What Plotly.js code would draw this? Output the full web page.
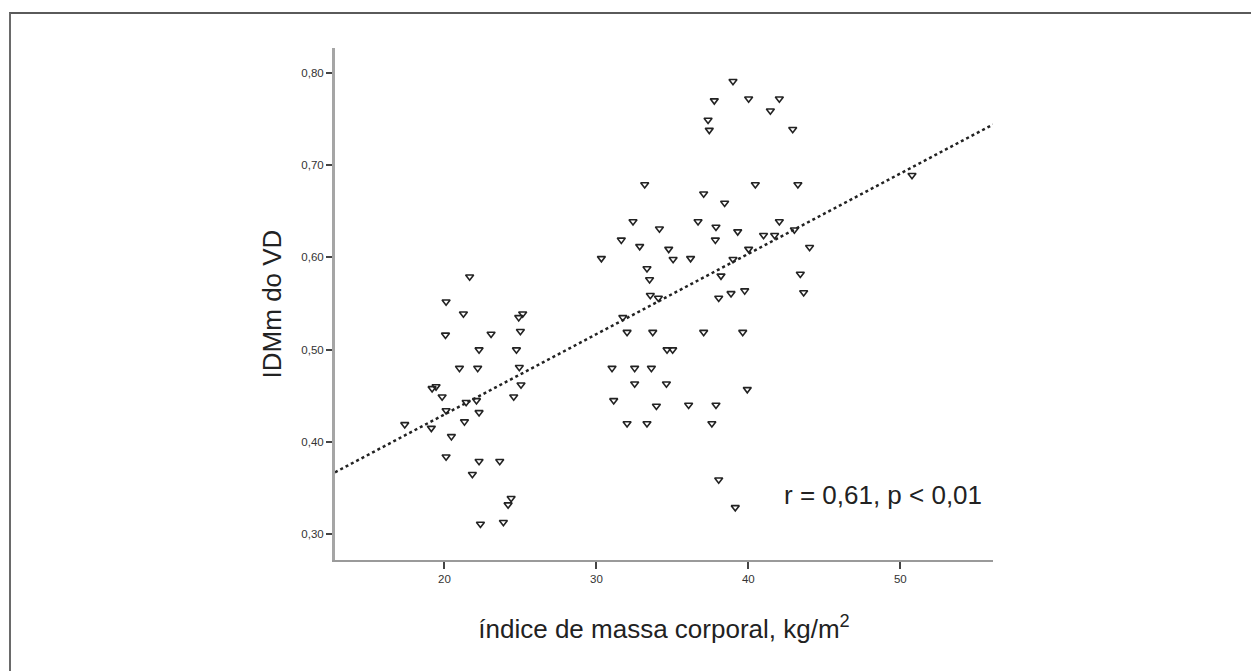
<!DOCTYPE html>
<html>
<head>
<meta charset="utf-8">
<script src="https://cdn.plot.ly/plotly-3.0.1.min.js"></script>
<style>
  html, body { margin: 0; padding: 0; background: #ffffff; }
  #frame { position: absolute; left: 9px; top: 12px; width: 1242px; height: 659px;
           border-top: 2px solid #5a5a5a; border-left: 2px solid #6a6a6a; box-sizing: border-box; }
  #chart { position: absolute; left: 0; top: 0; width: 1251px; height: 671px; }
</style>
</head>
<body>
<div id="frame"></div>
<div id="chart"></div>
<script>
// IMC (kg/m2) and IDMm do VD readings
const bmi = [
  21.66, 20.11, 21.25, 20.07, 23.07, 25.15, 24.89, 25.00, 22.28, 24.74,
  20.99, 22.19, 24.93, 19.19, 19.45, 19.85, 25.04, 24.56, 21.43, 22.11,
  20.11, 22.28, 21.32, 17.39, 19.14, 20.46, 20.11, 22.28, 23.64, 21.84,
  24.39, 24.19, 22.37, 23.88,
  30.33, 33.33, 33.50, 33.55, 34.08, 31.74, 32.02, 33.71, 31.03, 32.52,
  33.62, 32.52, 31.14, 33.95, 32.02, 33.33, 33.18, 32.41, 31.64, 32.85,
  34.15, 38.99, 37.76, 40.02, 42.04, 41.45, 37.35, 37.43, 42.92, 50.77,
  40.46, 43.26, 37.06, 38.44, 36.69, 37.87, 37.83, 39.30, 42.04, 41.00,
  41.73, 43.03, 44.03, 34.76, 35.05, 36.20, 38.99, 40.02, 38.20, 43.42,
  38.05, 38.86, 39.76, 43.64, 37.06, 39.63, 34.65, 35.02, 34.61, 39.93,
  36.07, 37.87, 37.60, 38.05, 39.14
];
const idmm = [
  0.579, 0.552, 0.539, 0.516, 0.517, 0.539, 0.535, 0.520, 0.500, 0.500,
  0.480, 0.480, 0.481, 0.458, 0.460, 0.449, 0.462, 0.449, 0.443, 0.445,
  0.434, 0.432, 0.422, 0.419, 0.415, 0.406, 0.384, 0.379, 0.379, 0.365,
  0.339, 0.332, 0.311, 0.313,
  0.599, 0.588, 0.576, 0.559, 0.556, 0.535, 0.519, 0.519, 0.480, 0.480,
  0.480, 0.463, 0.445, 0.439, 0.420, 0.420, 0.679, 0.639, 0.619, 0.612,
  0.631, 0.791, 0.770, 0.772, 0.772, 0.759, 0.749, 0.738, 0.739, 0.689,
  0.679, 0.679, 0.669, 0.659, 0.639, 0.633, 0.619, 0.628, 0.639, 0.624,
  0.624, 0.630, 0.611, 0.609, 0.598, 0.599, 0.598, 0.609, 0.580, 0.582,
  0.556, 0.561, 0.564, 0.562, 0.519, 0.519, 0.500, 0.500, 0.463, 0.457,
  0.440, 0.440, 0.420, 0.359, 0.329
];
// linear fit
const fitIntercept = 0.2556;
const fitSlope = 0.008707;
const xRange = [12.8, 56.1];
const yRange = [0.272, 0.827];
const xTicks = [20, 30, 40, 50];
const yTicks = [0.30, 0.40, 0.50, 0.60, 0.70, 0.80];
const xTitle = 'índice de massa corporal, kg/m<sup>2</sup>';
const yTitle = 'IDMm do VD';
const statText = 'r = 0,61, p < 0,01';

const FONT = '"Liberation Sans", Arial, Helvetica, sans-serif';

const fitX = xRange.slice();
const fitY = fitX.map(v => fitIntercept + fitSlope * v);

const traces = [
  {
    x: fitX, y: fitY, type: 'scatter', mode: 'lines',
    line: { color: '#222222', width: 2.5, dash: 'dot' },
    hoverinfo: 'skip', showlegend: false
  },
  {
    x: bmi, y: idmm, type: 'scatter', mode: 'markers',
    marker: { symbol: 'triangle-down-open', size: 7, color: '#222222', line: { width: 1.6, color: '#222222' } },
    showlegend: false
  }
];

const layout = {
  width: 1251, height: 671,
  margin: { l: 335, r: 258, t: 48, b: 111 },
  paper_bgcolor: 'rgba(0,0,0,0)',
  plot_bgcolor: 'rgba(0,0,0,0)',
  separators: ',.',
  font: { family: FONT, color: '#222222' },
  showlegend: false,
  xaxis: {
    range: xRange, tickvals: xTicks, ticktext: xTicks.map(String),
    showgrid: false, zeroline: false,
    showline: true, linecolor: '#9a9a9a', linewidth: 2,
    ticks: 'outside', ticklen: 7, tickwidth: 2, tickcolor: '#444444',
    tickfont: { family: FONT, size: 11.5, color: '#333333' },
    title: { text: xTitle, font: { family: FONT, size: 26, color: '#222222' }, standoff: 36 }
  },
  yaxis: {
    range: yRange, tickvals: yTicks, tickformat: '.2f',
    showgrid: false, zeroline: false,
    showline: true, linecolor: '#a5a5a5', linewidth: 3,
    ticks: 'outside', ticklen: 6, tickwidth: 2, tickcolor: '#444444',
    tickfont: { family: FONT, size: 11.5, color: '#333333' },
    title: { text: yTitle, font: { family: FONT, size: 26, color: '#222222' }, standoff: 13 }
  },
  annotations: [
    {
      x: 48.85, y: 0.342, xref: 'x', yref: 'y',
      text: statText, showarrow: false,
      xanchor: 'center', yanchor: 'middle',
      font: { family: FONT, size: 26, color: '#222222' }
    }
  ]
};

Plotly.newPlot('chart', traces, layout, { displayModeBar: false, staticPlot: true });
</script>
</body>
</html>
